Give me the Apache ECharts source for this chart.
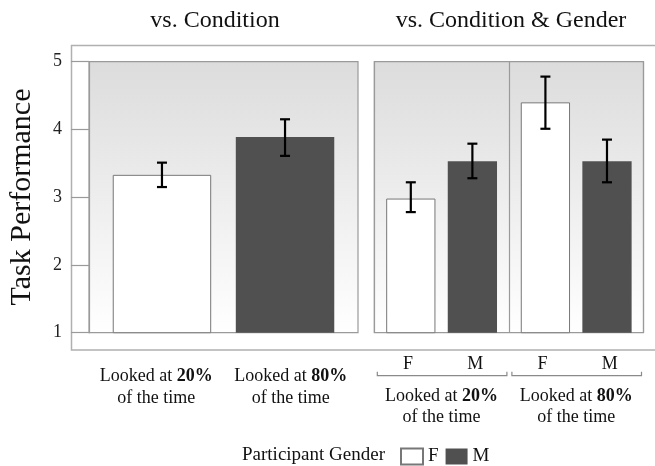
<!DOCTYPE html>
<html><head><meta charset="utf-8">
<script src="https://cdn.jsdelivr.net/npm/echarts@6/dist/echarts.min.js"></script>
<style>html,body{margin:0;padding:0;background:#fff}#c{width:655px;height:466px}</style>
</head><body><div id="c"></div>
<script>
// ---------- data ----------
const conditions = ['20%', '80%'];
const genders = ['F', 'M'];
// Panel 1: performance vs. condition
const condMeans = [3.33, 3.89];
const condLow = [3.15, 3.61];
const condHigh = [3.51, 4.15];
// Panel 2: performance vs. condition & gender (indexed by condition)
const femaleMeans = [2.98, 4.40];
const femaleLow = [2.78, 4.01];
const femaleHigh = [3.22, 4.78];
const maleMeans = [3.53, 3.53];
const maleLow = [3.28, 3.22];
const maleHigh = [3.79, 3.85];
const yMin = 1, yMax = 5, yStep = 1;
const titles = ['vs. Condition', 'vs. Condition & Gender'];
const yTitle = 'Task Performance';
const legendTitle = 'Participant Gender';

// ---------- styles ----------
const FONT = 'Liberation Serif';
const BAR_W = 0.366, BAR_GAP = 0.25;
const WHITE = {color: '#ffffff', borderColor: '#777777', borderWidth: 1};
const DARK = {color: '#505050', borderColor: '#505050', borderWidth: 0};
const bg = new echarts.graphic.LinearGradient(0, 0, 0, 1, [
  {offset: 0, color: '#dcdcdc'}, {offset: 1, color: '#ffffff'}]);

function condLabel(pct) { return '{n|Looked at }{b|' + pct + '}\n{n|of the time}'; }
const richLab = {
  n: {fontFamily: FONT, fontSize: 18, lineHeight: 21.6, color: '#111'},
  b: {fontFamily: FONT, fontSize: 18, lineHeight: 21.6, color: '#111', fontWeight: 'bold'}
};

function errRender(nSlots) {
  return function (params, api) {
    const cat = api.value(0), lo = api.value(1), hi = api.value(2), slot = api.value(3);
    const band = api.size([1, 0])[0];
    const bw = band * BAR_W, step = bw * (1 + BAR_GAP);
    const off = (slot - (nSlots - 1) / 2) * step;
    const pLo = api.coord([cat, lo]), pHi = api.coord([cat, hi]);
    const x = pLo[0] + off, cap = 5;
    const st = {stroke: '#000', lineWidth: 2.2};
    return {type: 'group', children: [
      {type: 'line', shape: {x1: x, y1: pHi[1], x2: x, y2: pLo[1]}, style: st},
      {type: 'line', shape: {x1: x - cap, y1: pHi[1], x2: x + cap, y2: pHi[1]}, style: st},
      {type: 'line', shape: {x1: x - cap, y1: pLo[1], x2: x + cap, y2: pLo[1]}, style: st}
    ]};
  };
}

function bracketRender(params, api) {
  const cat = api.value(0);
  const p = api.coord([cat, yMin]);
  const band = api.size([1, 0])[0];
  const x1 = p[0] - band / 2 + 3, x2 = p[0] + band / 2 - 2, y = p[1] + 43;
  return {type: 'polyline', shape: {points: [[x1, y - 4], [x1, y], [x2, y], [x2, y - 4]]},
          style: {stroke: '#8a8a8a', lineWidth: 1.2, fill: null}};
}

const chart = echarts.init(document.getElementById('c'), null, {renderer: 'canvas'});
const hiddenAxis = {axisLine: {show: false}, axisTick: {show: false}, axisLabel: {show: false}, splitLine: {show: false}};

chart.setOption({
  animation: false,
  textStyle: {fontFamily: FONT},
  graphic: [
    {type: 'rect', z: -10, shape: {x: 71.5, y: 45.5, width: 600, height: 304.5},
     style: {fill: 'none', stroke: '#b0b0b0', lineWidth: 1.5}},
    {type: 'text', x: 215, y: 21, style: {text: titles[0], font: '24px "' + FONT + '"', fill: '#111', align: 'center', verticalAlign: 'middle'}},
    {type: 'text', x: 511, y: 21, style: {text: titles[1], font: '24px "' + FONT + '"', fill: '#111', align: 'center', verticalAlign: 'middle'}},
    {type: 'text', x: 22, y: 197, rotation: Math.PI / 2, style: {text: yTitle, font: '30px "' + FONT + '"', fill: '#111', align: 'center', verticalAlign: 'middle'}},
    {type: 'text', x: 242, y: 455, style: {text: legendTitle, font: '19px "' + FONT + '"', fill: '#111', align: 'left', verticalAlign: 'middle'}}
  ],
  legend: {data: genders, left: 400, top: 447, itemWidth: 22, itemHeight: 16, itemGap: 7, icon: 'rect',
           padding: 0, textStyle: {fontFamily: FONT, fontSize: 19, color: '#111'}},
  grid: [
    {left: 89, top: 61.7, width: 269, height: 271, show: true, backgroundColor: bg, borderColor: '#9a9a9a', borderWidth: 1.2, outerBoundsMode: 'none', containLabel: false},
    {left: 374.3, top: 61.7, width: 269.2, height: 271, show: true, backgroundColor: bg, borderColor: '#9a9a9a', borderWidth: 1.2, outerBoundsMode: 'none', containLabel: false}
  ],
  xAxis: [
    Object.assign({type: 'category', gridIndex: 0, position: 'bottom', data: ['all']}, hiddenAxis),
    {type: 'category', gridIndex: 0, position: 'bottom', data: conditions, axisLine: {show: false}, axisTick: {show: false}, splitLine: {show: false},
     axisLabel: {interval: 0, margin: 33, formatter: condLabel, rich: richLab}},
    {type: 'category', gridIndex: 1, position: 'bottom', data: conditions, axisLine: {show: false}, axisTick: {show: false},
     splitLine: {show: true, interval: 0, lineStyle: {color: '#9a9a9a', width: 1.2}},
     axisLabel: {interval: 0, margin: 52.5, formatter: condLabel, rich: richLab}},
    {type: 'category', gridIndex: 1, position: 'bottom', data: conditions.flatMap(() => genders), axisLine: {show: false}, axisTick: {show: false}, splitLine: {show: false},
     axisLabel: {interval: 0, margin: 22, fontFamily: FONT, fontSize: 18, lineHeight: 20, color: '#111'}}
  ],
  yAxis: [
    {type: 'value', gridIndex: 0, min: yMin, max: yMax, interval: yStep,
     axisLine: {show: true, lineStyle: {color: '#9a9a9a', width: 1.2}},
     axisTick: {show: true, length: 18, lineStyle: {color: '#9a9a9a', width: 1.2}},
     axisLabel: {margin: 27, fontFamily: FONT, fontSize: 18, color: '#222'},
     splitLine: {show: false}},
    Object.assign({type: 'value', gridIndex: 1, min: yMin, max: yMax, interval: yStep}, hiddenAxis)
  ],
  series: [
    {name: 'Looked at ' + conditions[0], type: 'bar', xAxisIndex: 0, yAxisIndex: 0, barWidth: (BAR_W * 100) + '%', barGap: (BAR_GAP * 100) + '%',
     itemStyle: WHITE, data: [condMeans[0]]},
    {name: 'Looked at ' + conditions[1], type: 'bar', xAxisIndex: 0, yAxisIndex: 0, barWidth: (BAR_W * 100) + '%', barGap: (BAR_GAP * 100) + '%',
     itemStyle: DARK, data: [condMeans[1]]},
    {type: 'custom', xAxisIndex: 0, yAxisIndex: 0, renderItem: errRender(2), encode: {x: 0, y: [1, 2]}, z: 5,
     data: conditions.map((c, i) => [0, condLow[i], condHigh[i], i])},
    {name: genders[0], type: 'bar', xAxisIndex: 2, yAxisIndex: 1, barWidth: (BAR_W * 100) + '%', barGap: (BAR_GAP * 100) + '%',
     itemStyle: WHITE, data: femaleMeans},
    {name: genders[1], type: 'bar', xAxisIndex: 2, yAxisIndex: 1, barWidth: (BAR_W * 100) + '%', barGap: (BAR_GAP * 100) + '%',
     itemStyle: DARK, data: maleMeans},
    {type: 'custom', xAxisIndex: 2, yAxisIndex: 1, renderItem: errRender(2), encode: {x: 0, y: [1, 2]}, z: 5,
     data: conditions.map((c, i) => [i, femaleLow[i], femaleHigh[i], 0]).concat(conditions.map((c, i) => [i, maleLow[i], maleHigh[i], 1]))},
    {type: 'custom', xAxisIndex: 2, yAxisIndex: 1, renderItem: bracketRender, clip: false, encode: {x: 0, y: 1}, silent: true,
     data: conditions.map((c, i) => [i, yMin])}
  ]
});
</script></body></html>
